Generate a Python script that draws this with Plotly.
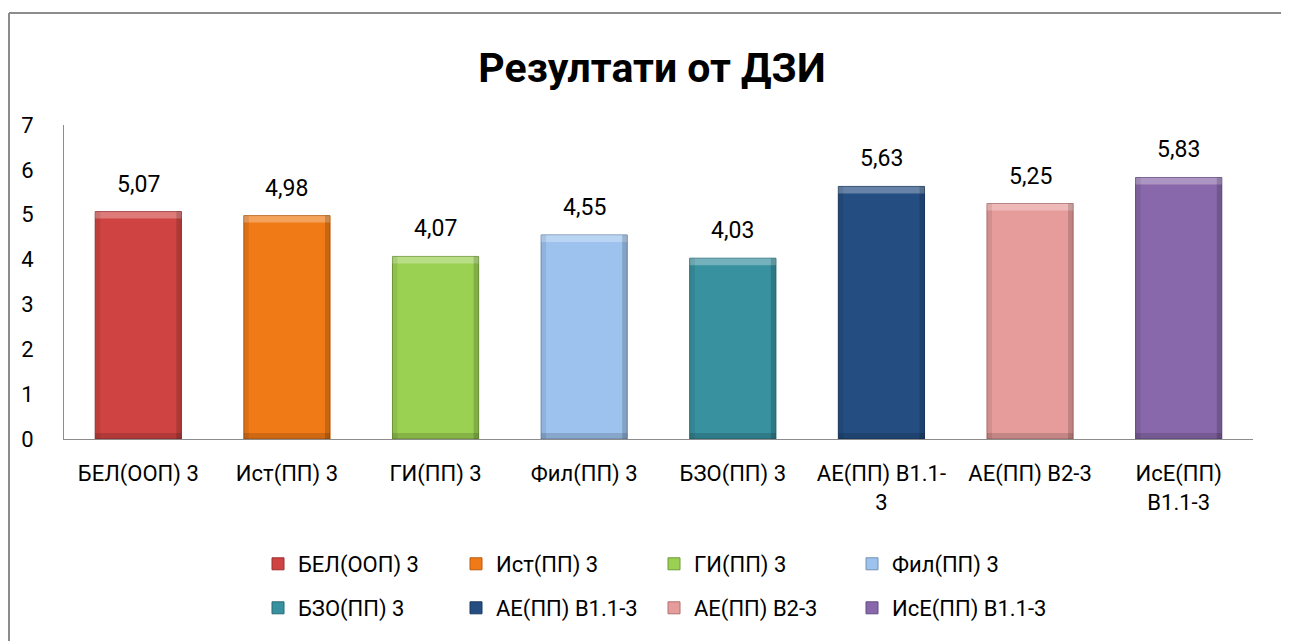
import plotly.graph_objects as go

categories = ["БЕЛ(ООП) 3", "Ист(ПП) 3", "ГИ(ПП) 3", "Фил(ПП) 3",
              "БЗО(ПП) 3", "АЕ(ПП) В1.1-3", "АЕ(ПП) В2-3", "ИсЕ(ПП) В1.1-3"]
tick_labels = ["БЕЛ(ООП) 3", "Ист(ПП) 3", "ГИ(ПП) 3", "Фил(ПП) 3",
               "БЗО(ПП) 3", "АЕ(ПП) В1.1-<br>3", "АЕ(ПП) В2-3", "ИсЕ(ПП)<br>В1.1-3"]
values = [5.07, 4.98, 4.07, 4.55, 4.03, 5.63, 5.25, 5.83]
colors = ["#CF4442", "#F07A16", "#9BD152", "#9DC2EE",
          "#37919F", "#244E82", "#E59C9A", "#8868AA"]
edge_colors = ["#9A3130", "#B85A0E", "#6F9A38", "#7491B3",
               "#286B76", "#1A3960", "#AE7371", "#634C80"]

FONT = "Roboto"
OFF = 8  # page body margin in the browser
W, H = 1289 - OFF, 641 - OFF
ML, MR = 64 - OFF, 36
MT = 125 - OFF
PLOT_BOTTOM = 439 - OFF
MB = H - PLOT_BOTTOM
PW = W - ML - MR
PH = H - MT - MB
BAR_W = 0.58
HALF = BAR_W / 2
EDGE = 0.034  # bevel side width as a fraction of a category

fig = go.Figure()
for i, (c, v) in enumerate(zip(categories, values)):
    fig.add_trace(go.Bar(
        x=[c], y=[v], name=c,
        marker=dict(color=colors[i], line=dict(color=edge_colors[i], width=1)),
        width=BAR_W,
        legend="legend" if i < 4 else "legend2",
        hoverinfo="x+y",
    ))

# bevel look on each bar (derived from the bar values)
for c, v in zip(categories, values):
    # top light band
    fig.add_shape(type="rect", xref="x", yref="y", layer="above",
                  x0=c, x1=c, x0shift=-HALF, x1shift=HALF,
                  ysizemode="pixel", yanchor=v, y0=-7, y1=0,
                  fillcolor="rgba(255,255,255,0.30)", line=dict(width=0))
    # left shade
    fig.add_shape(type="rect", xref="x", yref="y", layer="above",
                  x0=c, x1=c, x0shift=-HALF, x1shift=-HALF + EDGE,
                  y0=0, y1=v,
                  fillcolor="rgba(0,0,0,0.08)", line=dict(width=0))
    # right shade
    fig.add_shape(type="rect", xref="x", yref="y", layer="above",
                  x0=c, x1=c, x0shift=HALF - EDGE, x1shift=HALF,
                  y0=0, y1=v,
                  fillcolor="rgba(0,0,0,0.16)", line=dict(width=0))
    # bottom shade
    fig.add_shape(type="rect", xref="x", yref="y", layer="above",
                  x0=c, x1=c, x0shift=-HALF, x1shift=HALF,
                  ysizemode="pixel", yanchor=0, y0=0, y1=6,
                  fillcolor="rgba(0,0,0,0.14)", line=dict(width=0))

for c, v in zip(categories, values):
    fig.add_annotation(
        x=c, y=v, text=f"{v:.2f}".replace(".", ","),
        showarrow=False, yanchor="bottom", yshift=12,
        font=dict(family=FONT, size=23, color="#000000"),
    )

def px_x(p):  # screen pixel -> paper x
    return (p - OFF - ML) / PW

def px_y(p):  # screen pixel -> paper y
    return (PLOT_BOTTOM - (p - OFF)) / PH

# outer chart frame (left and top visible)
fig.add_shape(type="line", xref="paper", yref="paper",
              x0=px_x(9), x1=px_x(1300), y0=px_y(13), y1=px_y(13),
              line=dict(color="#8C8C8C", width=2))
fig.add_shape(type="line", xref="paper", yref="paper",
              x0=px_x(9), x1=px_x(9), y0=px_y(13), y1=px_y(660),
              line=dict(color="#8C8C8C", width=2))

legend_common = dict(
    orientation="h", xref="paper", yref="paper",
    xanchor="left", yanchor="middle",
    font=dict(family=FONT, size=22, color="#000000"),
    entrywidth=153, entrywidthmode="pixels",
    itemwidth=30, tracegroupgap=0, bgcolor="rgba(0,0,0,0)",
)

fig.update_layout(
    width=W, height=H,
    margin=dict(l=ML, r=MR, t=MT, b=MB),
    paper_bgcolor="white", plot_bgcolor="white",
    barmode="overlay",
    showlegend=True,
    title=dict(text="<b>Резултати от ДЗИ</b>", x=(652 - OFF) / W, xanchor="center",
               y=1 - (68 - OFF) / H, yanchor="middle",
               font=dict(family=FONT, size=41, color="#000000")),
    xaxis=dict(
        tickmode="array", tickvals=categories, ticktext=tick_labels,
        showline=True, linecolor="#8C8C8C", linewidth=1,
        showgrid=False, ticks="", ticklabelstandoff=15,
        tickfont=dict(family=FONT, size=22, color="#000000"),
    ),
    yaxis=dict(
        range=[0, 7], dtick=1, showline=True, linecolor="#8C8C8C", linewidth=1,
        showgrid=False, zeroline=False, ticks="", ticklabelstandoff=25,
        tickfont=dict(family=FONT, size=22, color="#000000"),
    ),
    legend=dict(x=px_x(258), y=px_y(564), **legend_common),
    legend2=dict(x=px_x(258), y=px_y(608), **legend_common),
)

fig.write_html("out.html")
